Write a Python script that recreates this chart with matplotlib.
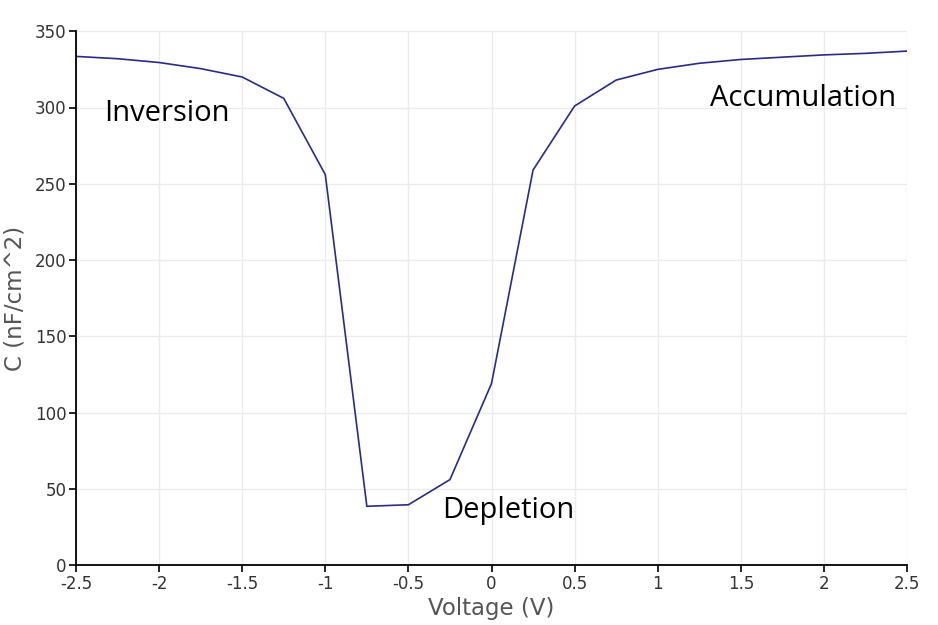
import matplotlib
matplotlib.use("Agg")
import matplotlib.pyplot as plt

# C-V curve of a MOS capacitor
voltage = [-2.5, -2.25, -2.0, -1.75, -1.5, -1.25, -1.0, -0.75, -0.5, -0.25,
           0.0, 0.25, 0.5, 0.75, 1.0, 1.25, 1.5, 1.75, 2.0, 2.25, 2.5]
capacitance = [333.5, 332, 329.5, 325.5, 320, 306, 256, 38.5, 39.5, 56,
               119, 259, 301, 318, 325, 329, 331.5, 333, 334.5, 335.5, 337]

regions = ["Inversion", "Depletion", "Accumulation"]
region_x = [-2.33, -0.295, 1.315]
region_y = [296, 36, 306]

fig = plt.figure(figsize=(9.38, 6.25), dpi=100)
ax = fig.add_axes([0.081, 0.096, 0.886, 0.854])

ax.plot(voltage, capacitance, color="#2a2a8a", lw=1.2)

ax.set_xlim(-2.5, 2.5)
ax.set_ylim(0, 350)
ax.set_xticks([-2.5, -2, -1.5, -1, -0.5, 0, 0.5, 1, 1.5, 2, 2.5])
ax.set_xticklabels(["-2.5", "-2", "-1.5", "-1", "-0.5", "0", "0.5", "1", "1.5", "2", "2.5"])
ax.set_yticks(range(0, 351, 50))
ax.grid(True, color="#ebebeb", lw=1)
ax.set_axisbelow(True)

for s in ["top", "right"]:
    ax.spines[s].set_visible(False)
for s in ["left", "bottom"]:
    ax.spines[s].set_linewidth(1.3)
ax.tick_params(direction="out", length=5, width=1.2, labelsize=12,
               labelcolor="#333333", pad=2)

ax.set_xlabel("Voltage (V)", fontsize=16.5, color="#555555", labelpad=3)
ax.set_ylabel("C (nF/cm^2)", fontsize=16.5, color="#555555", labelpad=6)

for name, x, y in zip(regions, region_x, region_y):
    ax.text(x, y, name, fontsize=21, family="Open Sans", va="center", ha="left")

fig.savefig("out.png", dpi=100)
